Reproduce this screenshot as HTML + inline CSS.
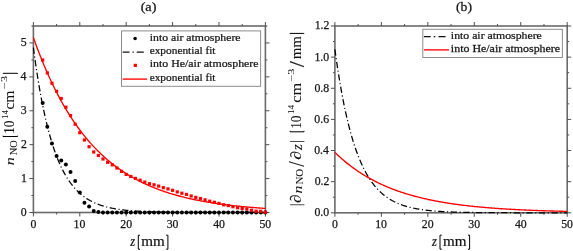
<!DOCTYPE html>
<html><head><meta charset="utf-8"><style>
html,body{margin:0;padding:0;background:#fff;}
body{width:573px;height:251px;overflow:hidden;}
svg{display:block;font-family:"Liberation Serif",serif;}
text{stroke:#222;stroke-width:0.25px;}
.yt text{stroke-width:0.08px;}
#w{width:573px;height:251px;will-change:transform;}
</style></head><body><div id="w">
<svg width="573" height="251" viewBox="0 0 573 251">
<rect width="573" height="251" fill="#fff"/>
<rect x="33.4" y="26.0" width="232.00" height="186.50" fill="none" stroke="#6a6a6a" stroke-width="1.6"/>
<path d="M33.40,212.5V216.5M33.40,26.0V22.0M56.60,212.5V214.5M56.60,26.0V24.0M79.80,212.5V216.5M79.80,26.0V22.0M103.00,212.5V214.5M103.00,26.0V24.0M126.20,212.5V216.5M126.20,26.0V22.0M149.40,212.5V214.5M149.40,26.0V24.0M172.60,212.5V216.5M172.60,26.0V22.0M195.80,212.5V214.5M195.80,26.0V24.0M219.00,212.5V216.5M219.00,26.0V22.0M242.20,212.5V214.5M242.20,26.0V24.0M265.40,212.5V216.5M265.40,26.0V22.0M33.4,195.55H31.4M265.4,195.55H267.4M33.4,161.64H31.4M265.4,161.64H267.4M33.4,127.73H31.4M265.4,127.73H267.4M33.4,93.82H31.4M265.4,93.82H267.4M33.4,59.91H31.4M265.4,59.91H267.4M33.4,26.00H31.4M265.4,26.00H267.4M33.4,212.50H29.4M265.4,212.50H269.4M33.4,178.59H29.4M265.4,178.59H269.4M33.4,144.68H29.4M265.4,144.68H269.4M33.4,110.77H29.4M265.4,110.77H269.4M33.4,76.86H29.4M265.4,76.86H269.4M33.4,42.95H29.4M265.4,42.95H269.4" stroke="#505050" stroke-width="1.0" fill="none"/>
<rect x="334.9" y="26.0" width="232.30" height="186.80" fill="none" stroke="#6a6a6a" stroke-width="1.6"/>
<path d="M334.90,212.8V216.8M334.90,26.0V22.0M358.13,212.8V214.8M358.13,26.0V24.0M381.36,212.8V216.8M381.36,26.0V22.0M404.59,212.8V214.8M404.59,26.0V24.0M427.82,212.8V216.8M427.82,26.0V22.0M451.05,212.8V214.8M451.05,26.0V24.0M474.28,212.8V216.8M474.28,26.0V22.0M497.51,212.8V214.8M497.51,26.0V24.0M520.74,212.8V216.8M520.74,26.0V22.0M543.97,212.8V214.8M543.97,26.0V24.0M567.20,212.8V216.8M567.20,26.0V22.0M334.9,197.23H332.9M567.2,197.23H569.2M334.9,166.10H332.9M567.2,166.10H569.2M334.9,134.97H332.9M567.2,134.97H569.2M334.9,103.83H332.9M567.2,103.83H569.2M334.9,72.70H332.9M567.2,72.70H569.2M334.9,41.57H332.9M567.2,41.57H569.2M334.9,212.80H330.9M567.2,212.80H571.2M334.9,181.67H330.9M567.2,181.67H571.2M334.9,150.53H330.9M567.2,150.53H571.2M334.9,119.40H330.9M567.2,119.40H571.2M334.9,88.27H330.9M567.2,88.27H571.2M334.9,57.13H330.9M567.2,57.13H571.2M334.9,26.00H330.9M567.2,26.00H571.2" stroke="#505050" stroke-width="1.0" fill="none"/>
<path d="M33.40,47.70 L34.33,54.64 L35.26,61.29 L36.18,67.65 L37.11,73.75 L38.04,79.59 L38.97,85.19 L39.90,90.55 L40.82,95.68 L41.75,100.60 L42.68,105.31 L43.61,109.82 L44.54,114.14 L45.46,118.28 L46.39,122.25 L47.32,126.05 L48.25,129.69 L49.18,133.18 L50.10,136.52 L51.03,139.71 L51.96,142.78 L52.89,145.71 L53.82,148.53 L54.74,151.22 L55.67,153.80 L56.60,156.27 L57.53,158.64 L58.46,160.90 L59.38,163.08 L60.31,165.16 L61.24,167.15 L62.17,169.06 L63.10,170.89 L64.02,172.64 L64.95,174.32 L65.88,175.93 L66.81,177.47 L67.74,178.94 L68.66,180.35 L69.59,181.71 L70.52,183.00 L71.45,184.24 L72.38,185.43 L73.30,186.57 L74.23,187.67 L75.16,188.71 L76.09,189.71 L77.02,190.67 L77.94,191.59 L78.87,192.47 L79.80,193.31 L80.73,194.12 L81.66,194.90 L82.58,195.64 L83.51,196.35 L84.44,197.03 L85.37,197.68 L86.30,198.30 L87.22,198.90 L88.15,199.47 L89.08,200.02 L90.01,200.55 L90.94,201.05 L91.86,201.53 L92.79,201.99 L93.72,202.44 L94.65,202.86 L95.58,203.26 L96.50,203.65 L97.43,204.03 L98.36,204.38 L99.29,204.72 L100.22,205.05 L101.14,205.37 L102.07,205.67 L103.00,205.95 L103.93,206.23 L104.86,206.49 L105.78,206.75 L106.71,206.99 L107.64,207.22 L108.57,207.44 L109.50,207.66 L110.42,207.86 L111.35,208.05 L112.28,208.24 L113.21,208.42 L114.14,208.59 L115.06,208.76 L115.99,208.91 L116.92,209.07 L117.85,209.21 L118.78,209.35 L119.70,209.48 L120.63,209.61 L121.56,209.73 L122.49,209.85 L123.42,209.96 L124.34,210.07 L125.27,210.17 L126.20,210.27 L127.13,210.36 L128.06,210.45 L128.98,210.54 L129.91,210.62 L130.84,210.70 L131.77,210.77 L132.70,210.85 L133.62,210.92 L134.55,210.98 L135.48,211.05 L136.41,211.11 L137.34,211.17 L138.26,211.22 L139.19,211.28 L140.12,211.33 L141.05,211.38 L141.98,211.42 L142.90,211.47 L143.83,211.51 L144.76,211.55 L145.69,211.59 L146.62,211.63 L147.54,211.67 L148.47,211.70 L149.40,211.74 L150.33,211.77 L151.26,211.80 L152.18,211.83 L153.11,211.86 L154.04,211.89 L154.97,211.91 L155.90,211.94 L156.82,211.96 L157.75,211.98 L158.68,212.00 L159.61,212.03 L160.54,212.05 L161.46,212.06 L162.39,212.08 L163.32,212.10 L164.25,212.12 L165.18,212.13 L166.10,212.15 L167.03,212.16 L167.96,212.18 L168.89,212.19 L169.82,212.20 L170.74,212.22 L171.67,212.23 L172.60,212.24 L173.53,212.25 L174.46,212.26 L175.38,212.27 L176.31,212.28 L177.24,212.29 L178.17,212.30 L179.10,212.31 L180.02,212.32 L180.95,212.32 L181.88,212.33 L182.81,212.34 L183.74,212.34 L184.66,212.35 L185.59,212.36 L186.52,212.36 L187.45,212.37 L188.38,212.37 L189.30,212.38 L190.23,212.39 L191.16,212.39 L192.09,212.39 L193.02,212.40 L193.94,212.40 L194.87,212.41 L195.80,212.41 L196.73,212.42 L197.66,212.42 L198.58,212.42 L199.51,212.43 L200.44,212.43 L201.37,212.43 L202.30,212.43 L203.22,212.44 L204.15,212.44 L205.08,212.44 L206.01,212.44 L206.94,212.45 L207.86,212.45 L208.79,212.45 L209.72,212.45 L210.65,212.46 L211.58,212.46 L212.50,212.46 L213.43,212.46 L214.36,212.46 L215.29,212.46 L216.22,212.47 L217.14,212.47 L218.07,212.47 L219.00,212.47 L219.93,212.47 L220.86,212.47 L221.78,212.47 L222.71,212.47 L223.64,212.48 L224.57,212.48 L225.50,212.48 L226.42,212.48 L227.35,212.48 L228.28,212.48 L229.21,212.48 L230.14,212.48 L231.06,212.48 L231.99,212.48 L232.92,212.48 L233.85,212.48 L234.78,212.49 L235.70,212.49 L236.63,212.49 L237.56,212.49 L238.49,212.49 L239.42,212.49 L240.34,212.49 L241.27,212.49 L242.20,212.49 L243.13,212.49 L244.06,212.49 L244.98,212.49 L245.91,212.49 L246.84,212.49 L247.77,212.49 L248.70,212.49 L249.62,212.49 L250.55,212.49 L251.48,212.49 L252.41,212.49 L253.34,212.49 L254.26,212.49 L255.19,212.49 L256.12,212.49 L257.05,212.49 L257.98,212.50 L258.90,212.50 L259.83,212.50 L260.76,212.50 L261.69,212.50 L262.62,212.50 L263.54,212.50 L264.47,212.50 L265.40,212.50" fill="none" stroke="#000" stroke-width="1.25" stroke-dasharray="6.3,2.6,1.1,2.6"/>
<path d="M33.40,37.53 L34.33,40.14 L35.26,42.71 L36.18,45.25 L37.11,47.74 L38.04,50.20 L38.97,52.62 L39.90,55.01 L40.82,57.36 L41.75,59.68 L42.68,61.96 L43.61,64.20 L44.54,66.42 L45.46,68.60 L46.39,70.75 L47.32,72.86 L48.25,74.95 L49.18,77.00 L50.10,79.02 L51.03,81.01 L51.96,82.98 L52.89,84.91 L53.82,86.81 L54.74,88.69 L55.67,90.54 L56.60,92.36 L57.53,94.15 L58.46,95.92 L59.38,97.66 L60.31,99.37 L61.24,101.06 L62.17,102.72 L63.10,104.36 L64.02,105.98 L64.95,107.56 L65.88,109.13 L66.81,110.67 L67.74,112.19 L68.66,113.69 L69.59,115.17 L70.52,116.62 L71.45,118.05 L72.38,119.46 L73.30,120.85 L74.23,122.22 L75.16,123.56 L76.09,124.89 L77.02,126.20 L77.94,127.49 L78.87,128.75 L79.80,130.00 L80.73,131.24 L81.66,132.45 L82.58,133.64 L83.51,134.82 L84.44,135.98 L85.37,137.12 L86.30,138.25 L87.22,139.36 L88.15,140.45 L89.08,141.52 L90.01,142.58 L90.94,143.63 L91.86,144.65 L92.79,145.67 L93.72,146.66 L94.65,147.65 L95.58,148.61 L96.50,149.57 L97.43,150.51 L98.36,151.43 L99.29,152.34 L100.22,153.24 L101.14,154.13 L102.07,155.00 L103.00,155.86 L103.93,156.70 L104.86,157.53 L105.78,158.35 L106.71,159.16 L107.64,159.96 L108.57,160.74 L109.50,161.51 L110.42,162.28 L111.35,163.03 L112.28,163.76 L113.21,164.49 L114.14,165.21 L115.06,165.91 L115.99,166.61 L116.92,167.29 L117.85,167.97 L118.78,168.63 L119.70,169.29 L120.63,169.93 L121.56,170.57 L122.49,171.19 L123.42,171.81 L124.34,172.42 L125.27,173.02 L126.20,173.61 L127.13,174.19 L128.06,174.76 L128.98,175.32 L129.91,175.88 L130.84,176.42 L131.77,176.96 L132.70,177.49 L133.62,178.01 L134.55,178.53 L135.48,179.04 L136.41,179.53 L137.34,180.03 L138.26,180.51 L139.19,180.99 L140.12,181.46 L141.05,181.92 L141.98,182.38 L142.90,182.83 L143.83,183.27 L144.76,183.71 L145.69,184.14 L146.62,184.56 L147.54,184.98 L148.47,185.39 L149.40,185.79 L150.33,186.19 L151.26,186.58 L152.18,186.97 L153.11,187.35 L154.04,187.73 L154.97,188.10 L155.90,188.46 L156.82,188.82 L157.75,189.17 L158.68,189.52 L159.61,189.86 L160.54,190.20 L161.46,190.54 L162.39,190.86 L163.32,191.19 L164.25,191.50 L165.18,191.82 L166.10,192.13 L167.03,192.43 L167.96,192.73 L168.89,193.03 L169.82,193.32 L170.74,193.60 L171.67,193.88 L172.60,194.16 L173.53,194.44 L174.46,194.71 L175.38,194.97 L176.31,195.23 L177.24,195.49 L178.17,195.74 L179.10,195.99 L180.02,196.24 L180.95,196.48 L181.88,196.72 L182.81,196.96 L183.74,197.19 L184.66,197.42 L185.59,197.64 L186.52,197.86 L187.45,198.08 L188.38,198.30 L189.30,198.51 L190.23,198.72 L191.16,198.93 L192.09,199.13 L193.02,199.33 L193.94,199.52 L194.87,199.72 L195.80,199.91 L196.73,200.10 L197.66,200.28 L198.58,200.46 L199.51,200.64 L200.44,200.82 L201.37,200.99 L202.30,201.17 L203.22,201.34 L204.15,201.50 L205.08,201.67 L206.01,201.83 L206.94,201.99 L207.86,202.14 L208.79,202.30 L209.72,202.45 L210.65,202.60 L211.58,202.75 L212.50,202.89 L213.43,203.04 L214.36,203.18 L215.29,203.32 L216.22,203.45 L217.14,203.59 L218.07,203.72 L219.00,203.85 L219.93,203.98 L220.86,204.11 L221.78,204.24 L222.71,204.36 L223.64,204.48 L224.57,204.60 L225.50,204.72 L226.42,204.83 L227.35,204.95 L228.28,205.06 L229.21,205.17 L230.14,205.28 L231.06,205.39 L231.99,205.50 L232.92,205.60 L233.85,205.70 L234.78,205.80 L235.70,205.90 L236.63,206.00 L237.56,206.10 L238.49,206.20 L239.42,206.29 L240.34,206.38 L241.27,206.47 L242.20,206.56 L243.13,206.65 L244.06,206.74 L244.98,206.83 L245.91,206.91 L246.84,206.99 L247.77,207.08 L248.70,207.16 L249.62,207.24 L250.55,207.31 L251.48,207.39 L252.41,207.47 L253.34,207.54 L254.26,207.62 L255.19,207.69 L256.12,207.76 L257.05,207.83 L257.98,207.90 L258.90,207.97 L259.83,208.04 L260.76,208.11 L261.69,208.17 L262.62,208.24 L263.54,208.30 L264.47,208.36 L265.40,208.42" fill="none" stroke="#ff0000" stroke-width="1.35"/>
<circle cx="42.68" cy="102.90" r="2.0" fill="#000"/>
<circle cx="47.32" cy="126.70" r="2.0" fill="#000"/>
<circle cx="51.96" cy="143.60" r="2.0" fill="#000"/>
<circle cx="56.60" cy="156.00" r="2.0" fill="#000"/>
<circle cx="61.24" cy="160.60" r="2.0" fill="#000"/>
<circle cx="65.88" cy="164.40" r="2.0" fill="#000"/>
<circle cx="70.52" cy="172.00" r="2.0" fill="#000"/>
<circle cx="75.16" cy="181.00" r="2.0" fill="#000"/>
<circle cx="79.80" cy="192.40" r="2.0" fill="#000"/>
<circle cx="84.44" cy="202.80" r="2.0" fill="#000"/>
<circle cx="89.08" cy="206.40" r="2.0" fill="#000"/>
<circle cx="93.72" cy="210.90" r="2.0" fill="#000"/>
<circle cx="98.36" cy="212.10" r="2.0" fill="#000"/>
<circle cx="103.00" cy="212.50" r="2.0" fill="#000"/>
<circle cx="107.64" cy="212.50" r="2.0" fill="#000"/>
<circle cx="112.28" cy="212.50" r="2.0" fill="#000"/>
<circle cx="116.92" cy="212.50" r="2.0" fill="#000"/>
<circle cx="121.56" cy="212.50" r="2.0" fill="#000"/>
<circle cx="126.20" cy="212.50" r="2.0" fill="#000"/>
<circle cx="130.84" cy="212.50" r="2.0" fill="#000"/>
<circle cx="135.48" cy="212.50" r="2.0" fill="#000"/>
<circle cx="140.12" cy="212.50" r="2.0" fill="#000"/>
<circle cx="144.76" cy="212.50" r="2.0" fill="#000"/>
<circle cx="149.40" cy="212.50" r="2.0" fill="#000"/>
<circle cx="154.04" cy="212.50" r="2.0" fill="#000"/>
<circle cx="158.68" cy="212.50" r="2.0" fill="#000"/>
<circle cx="163.32" cy="212.50" r="2.0" fill="#000"/>
<circle cx="167.96" cy="212.50" r="2.0" fill="#000"/>
<circle cx="172.60" cy="212.50" r="2.0" fill="#000"/>
<circle cx="177.24" cy="212.50" r="2.0" fill="#000"/>
<circle cx="181.88" cy="212.50" r="2.0" fill="#000"/>
<circle cx="186.52" cy="212.50" r="2.0" fill="#000"/>
<circle cx="191.16" cy="212.50" r="2.0" fill="#000"/>
<circle cx="195.80" cy="212.50" r="2.0" fill="#000"/>
<circle cx="200.44" cy="212.50" r="2.0" fill="#000"/>
<circle cx="205.08" cy="212.50" r="2.0" fill="#000"/>
<circle cx="209.72" cy="212.50" r="2.0" fill="#000"/>
<circle cx="214.36" cy="212.50" r="2.0" fill="#000"/>
<circle cx="219.00" cy="212.50" r="2.0" fill="#000"/>
<circle cx="223.64" cy="212.50" r="2.0" fill="#000"/>
<circle cx="228.28" cy="212.50" r="2.0" fill="#000"/>
<circle cx="232.92" cy="212.50" r="2.0" fill="#000"/>
<circle cx="237.56" cy="212.50" r="2.0" fill="#000"/>
<circle cx="242.20" cy="212.50" r="2.0" fill="#000"/>
<circle cx="246.84" cy="212.50" r="2.0" fill="#000"/>
<circle cx="251.48" cy="212.50" r="2.0" fill="#000"/>
<circle cx="256.12" cy="212.50" r="2.0" fill="#000"/>
<circle cx="260.76" cy="212.50" r="2.0" fill="#000"/>
<circle cx="265.40" cy="212.50" r="2.0" fill="#000"/>
<rect x="41.08" y="58.40" width="3.2" height="3.2" fill="#ff0000"/>
<rect x="45.72" y="71.30" width="3.2" height="3.2" fill="#ff0000"/>
<rect x="50.36" y="81.60" width="3.2" height="3.2" fill="#ff0000"/>
<rect x="55.00" y="89.70" width="3.2" height="3.2" fill="#ff0000"/>
<rect x="59.64" y="96.90" width="3.2" height="3.2" fill="#ff0000"/>
<rect x="64.28" y="105.60" width="3.2" height="3.2" fill="#ff0000"/>
<rect x="68.92" y="114.00" width="3.2" height="3.2" fill="#ff0000"/>
<rect x="73.56" y="122.60" width="3.2" height="3.2" fill="#ff0000"/>
<rect x="78.20" y="131.10" width="3.2" height="3.2" fill="#ff0000"/>
<rect x="82.84" y="138.40" width="3.2" height="3.2" fill="#ff0000"/>
<rect x="87.48" y="145.10" width="3.2" height="3.2" fill="#ff0000"/>
<rect x="92.12" y="150.40" width="3.2" height="3.2" fill="#ff0000"/>
<rect x="96.76" y="153.90" width="3.2" height="3.2" fill="#ff0000"/>
<rect x="101.40" y="157.40" width="3.2" height="3.2" fill="#ff0000"/>
<rect x="106.04" y="160.70" width="3.2" height="3.2" fill="#ff0000"/>
<rect x="110.68" y="163.20" width="3.2" height="3.2" fill="#ff0000"/>
<rect x="115.32" y="166.40" width="3.2" height="3.2" fill="#ff0000"/>
<rect x="119.96" y="169.80" width="3.2" height="3.2" fill="#ff0000"/>
<rect x="124.60" y="172.80" width="3.2" height="3.2" fill="#ff0000"/>
<rect x="129.24" y="174.90" width="3.2" height="3.2" fill="#ff0000"/>
<rect x="133.88" y="176.80" width="3.2" height="3.2" fill="#ff0000"/>
<rect x="138.52" y="178.60" width="3.2" height="3.2" fill="#ff0000"/>
<rect x="143.16" y="180.50" width="3.2" height="3.2" fill="#ff0000"/>
<rect x="147.80" y="182.10" width="3.2" height="3.2" fill="#ff0000"/>
<rect x="152.44" y="183.20" width="3.2" height="3.2" fill="#ff0000"/>
<rect x="157.08" y="184.50" width="3.2" height="3.2" fill="#ff0000"/>
<rect x="161.72" y="186.10" width="3.2" height="3.2" fill="#ff0000"/>
<rect x="166.36" y="187.30" width="3.2" height="3.2" fill="#ff0000"/>
<rect x="171.00" y="188.70" width="3.2" height="3.2" fill="#ff0000"/>
<rect x="175.64" y="190.30" width="3.2" height="3.2" fill="#ff0000"/>
<rect x="180.28" y="191.60" width="3.2" height="3.2" fill="#ff0000"/>
<rect x="184.92" y="192.80" width="3.2" height="3.2" fill="#ff0000"/>
<rect x="189.56" y="194.40" width="3.2" height="3.2" fill="#ff0000"/>
<rect x="194.20" y="195.80" width="3.2" height="3.2" fill="#ff0000"/>
<rect x="198.84" y="196.90" width="3.2" height="3.2" fill="#ff0000"/>
<rect x="203.48" y="198.20" width="3.2" height="3.2" fill="#ff0000"/>
<rect x="208.12" y="199.60" width="3.2" height="3.2" fill="#ff0000"/>
<rect x="212.76" y="200.70" width="3.2" height="3.2" fill="#ff0000"/>
<rect x="217.40" y="201.80" width="3.2" height="3.2" fill="#ff0000"/>
<rect x="222.04" y="203.20" width="3.2" height="3.2" fill="#ff0000"/>
<rect x="226.68" y="204.00" width="3.2" height="3.2" fill="#ff0000"/>
<rect x="231.32" y="205.10" width="3.2" height="3.2" fill="#ff0000"/>
<rect x="235.96" y="206.10" width="3.2" height="3.2" fill="#ff0000"/>
<rect x="240.60" y="206.90" width="3.2" height="3.2" fill="#ff0000"/>
<rect x="245.24" y="207.50" width="3.2" height="3.2" fill="#ff0000"/>
<rect x="249.88" y="208.70" width="3.2" height="3.2" fill="#ff0000"/>
<rect x="254.52" y="209.60" width="3.2" height="3.2" fill="#ff0000"/>
<rect x="259.16" y="209.70" width="3.2" height="3.2" fill="#ff0000"/>
<rect x="263.80" y="210.50" width="3.2" height="3.2" fill="#ff0000"/>
<path d="M334.90,49.35 L335.83,56.09 L336.76,62.55 L337.69,68.75 L338.62,74.69 L339.55,80.38 L340.48,85.84 L341.40,91.07 L342.33,96.09 L343.26,100.91 L344.19,105.52 L345.12,109.94 L346.05,114.18 L346.98,118.25 L347.91,122.15 L348.84,125.89 L349.77,129.47 L350.70,132.90 L351.63,136.20 L352.55,139.36 L353.48,142.39 L354.41,145.29 L355.34,148.07 L356.27,150.74 L357.20,153.30 L358.13,155.75 L359.06,158.11 L359.99,160.36 L360.92,162.52 L361.85,164.60 L362.78,166.58 L363.71,168.49 L364.63,170.32 L365.56,172.07 L366.49,173.75 L367.42,175.36 L368.35,176.90 L369.28,178.38 L370.21,179.80 L371.14,181.16 L372.07,182.47 L373.00,183.72 L373.93,184.92 L374.86,186.06 L375.78,187.17 L376.71,188.22 L377.64,189.24 L378.57,190.21 L379.50,191.14 L380.43,192.03 L381.36,192.89 L382.29,193.71 L383.22,194.50 L384.15,195.25 L385.08,195.98 L386.01,196.67 L386.94,197.33 L387.86,197.97 L388.79,198.58 L389.72,199.17 L390.65,199.73 L391.58,200.27 L392.51,200.79 L393.44,201.28 L394.37,201.76 L395.30,202.21 L396.23,202.65 L397.16,203.07 L398.09,203.47 L399.01,203.85 L399.94,204.22 L400.87,204.58 L401.80,204.92 L402.73,205.24 L403.66,205.55 L404.59,205.85 L405.52,206.14 L406.45,206.41 L407.38,206.68 L408.31,206.93 L409.24,207.17 L410.17,207.40 L411.09,207.62 L412.02,207.84 L412.95,208.04 L413.88,208.24 L414.81,208.43 L415.74,208.61 L416.67,208.78 L417.60,208.95 L418.53,209.10 L419.46,209.26 L420.39,209.40 L421.32,209.54 L422.24,209.68 L423.17,209.81 L424.10,209.93 L425.03,210.05 L425.96,210.16 L426.89,210.27 L427.82,210.37 L428.75,210.47 L429.68,210.57 L430.61,210.66 L431.54,210.75 L432.47,210.84 L433.40,210.92 L434.32,210.99 L435.25,211.07 L436.18,211.14 L437.11,211.21 L438.04,211.27 L438.97,211.34 L439.90,211.40 L440.83,211.45 L441.76,211.51 L442.69,211.56 L443.62,211.61 L444.55,211.66 L445.47,211.71 L446.40,211.76 L447.33,211.80 L448.26,211.84 L449.19,211.88 L450.12,211.92 L451.05,211.95 L451.98,211.99 L452.91,212.02 L453.84,212.05 L454.77,212.08 L455.70,212.11 L456.63,212.14 L457.55,212.17 L458.48,212.20 L459.41,212.22 L460.34,212.24 L461.27,212.27 L462.20,212.29 L463.13,212.31 L464.06,212.33 L464.99,212.35 L465.92,212.37 L466.85,212.39 L467.78,212.40 L468.70,212.42 L469.63,212.44 L470.56,212.45 L471.49,212.46 L472.42,212.48 L473.35,212.49 L474.28,212.50 L475.21,212.52 L476.14,212.53 L477.07,212.54 L478.00,212.55 L478.93,212.56 L479.86,212.57 L480.78,212.58 L481.71,212.59 L482.64,212.60 L483.57,212.61 L484.50,212.61 L485.43,212.62 L486.36,212.63 L487.29,212.64 L488.22,212.64 L489.15,212.65 L490.08,212.66 L491.01,212.66 L491.93,212.67 L492.86,212.67 L493.79,212.68 L494.72,212.68 L495.65,212.69 L496.58,212.69 L497.51,212.70 L498.44,212.70 L499.37,212.71 L500.30,212.71 L501.23,212.71 L502.16,212.72 L503.09,212.72 L504.01,212.72 L504.94,212.73 L505.87,212.73 L506.80,212.73 L507.73,212.74 L508.66,212.74 L509.59,212.74 L510.52,212.74 L511.45,212.75 L512.38,212.75 L513.31,212.75 L514.24,212.75 L515.16,212.75 L516.09,212.76 L517.02,212.76 L517.95,212.76 L518.88,212.76 L519.81,212.76 L520.74,212.76 L521.67,212.77 L522.60,212.77 L523.53,212.77 L524.46,212.77 L525.39,212.77 L526.32,212.77 L527.24,212.77 L528.17,212.77 L529.10,212.78 L530.03,212.78 L530.96,212.78 L531.89,212.78 L532.82,212.78 L533.75,212.78 L534.68,212.78 L535.61,212.78 L536.54,212.78 L537.47,212.78 L538.39,212.78 L539.32,212.78 L540.25,212.79 L541.18,212.79 L542.11,212.79 L543.04,212.79 L543.97,212.79 L544.90,212.79 L545.83,212.79 L546.76,212.79 L547.69,212.79 L548.62,212.79 L549.55,212.79 L550.47,212.79 L551.40,212.79 L552.33,212.79 L553.26,212.79 L554.19,212.79 L555.12,212.79 L556.05,212.79 L556.98,212.79 L557.91,212.79 L558.84,212.79 L559.77,212.79 L560.70,212.79 L561.62,212.79 L562.55,212.79 L563.48,212.79 L564.41,212.80 L565.34,212.80 L566.27,212.80 L567.20,212.80" fill="none" stroke="#000" stroke-width="1.25" stroke-dasharray="6.3,2.6,1.1,2.6"/>
<path d="M334.90,152.40 L335.83,153.30 L336.76,154.19 L337.69,155.07 L338.62,155.93 L339.55,156.78 L340.48,157.61 L341.40,158.44 L342.33,159.25 L343.26,160.05 L344.19,160.83 L345.12,161.61 L346.05,162.37 L346.98,163.13 L347.91,163.87 L348.84,164.60 L349.77,165.32 L350.70,166.03 L351.63,166.72 L352.55,167.41 L353.48,168.09 L354.41,168.76 L355.34,169.41 L356.27,170.06 L357.20,170.70 L358.13,171.33 L359.06,171.95 L359.99,172.56 L360.92,173.16 L361.85,173.75 L362.78,174.33 L363.71,174.91 L364.63,175.47 L365.56,176.03 L366.49,176.58 L367.42,177.12 L368.35,177.65 L369.28,178.17 L370.21,178.69 L371.14,179.20 L372.07,179.70 L373.00,180.20 L373.93,180.68 L374.86,181.16 L375.78,181.63 L376.71,182.10 L377.64,182.56 L378.57,183.01 L379.50,183.45 L380.43,183.89 L381.36,184.32 L382.29,184.75 L383.22,185.17 L384.15,185.58 L385.08,185.99 L386.01,186.39 L386.94,186.78 L387.86,187.17 L388.79,187.55 L389.72,187.93 L390.65,188.30 L391.58,188.66 L392.51,189.02 L393.44,189.38 L394.37,189.73 L395.30,190.07 L396.23,190.41 L397.16,190.75 L398.09,191.08 L399.01,191.40 L399.94,191.72 L400.87,192.03 L401.80,192.34 L402.73,192.65 L403.66,192.95 L404.59,193.25 L405.52,193.54 L406.45,193.83 L407.38,194.11 L408.31,194.39 L409.24,194.66 L410.17,194.93 L411.09,195.20 L412.02,195.46 L412.95,195.72 L413.88,195.98 L414.81,196.23 L415.74,196.48 L416.67,196.72 L417.60,196.96 L418.53,197.20 L419.46,197.43 L420.39,197.66 L421.32,197.88 L422.24,198.11 L423.17,198.33 L424.10,198.54 L425.03,198.75 L425.96,198.96 L426.89,199.17 L427.82,199.37 L428.75,199.57 L429.68,199.77 L430.61,199.97 L431.54,200.16 L432.47,200.35 L433.40,200.53 L434.32,200.72 L435.25,200.90 L436.18,201.07 L437.11,201.25 L438.04,201.42 L438.97,201.59 L439.90,201.76 L440.83,201.92 L441.76,202.09 L442.69,202.24 L443.62,202.40 L444.55,202.56 L445.47,202.71 L446.40,202.86 L447.33,203.01 L448.26,203.16 L449.19,203.30 L450.12,203.44 L451.05,203.58 L451.98,203.72 L452.91,203.85 L453.84,203.99 L454.77,204.12 L455.70,204.25 L456.63,204.38 L457.55,204.50 L458.48,204.63 L459.41,204.75 L460.34,204.87 L461.27,204.99 L462.20,205.10 L463.13,205.22 L464.06,205.33 L464.99,205.44 L465.92,205.55 L466.85,205.66 L467.78,205.77 L468.70,205.87 L469.63,205.98 L470.56,206.08 L471.49,206.18 L472.42,206.28 L473.35,206.37 L474.28,206.47 L475.21,206.56 L476.14,206.66 L477.07,206.75 L478.00,206.84 L478.93,206.93 L479.86,207.02 L480.78,207.10 L481.71,207.19 L482.64,207.27 L483.57,207.35 L484.50,207.43 L485.43,207.51 L486.36,207.59 L487.29,207.67 L488.22,207.75 L489.15,207.82 L490.08,207.90 L491.01,207.97 L491.93,208.04 L492.86,208.11 L493.79,208.18 L494.72,208.25 L495.65,208.32 L496.58,208.39 L497.51,208.45 L498.44,208.52 L499.37,208.58 L500.30,208.65 L501.23,208.71 L502.16,208.77 L503.09,208.83 L504.01,208.89 L504.94,208.95 L505.87,209.00 L506.80,209.06 L507.73,209.12 L508.66,209.17 L509.59,209.23 L510.52,209.28 L511.45,209.33 L512.38,209.38 L513.31,209.43 L514.24,209.48 L515.16,209.53 L516.09,209.58 L517.02,209.63 L517.95,209.68 L518.88,209.72 L519.81,209.77 L520.74,209.82 L521.67,209.86 L522.60,209.90 L523.53,209.95 L524.46,209.99 L525.39,210.03 L526.32,210.07 L527.24,210.11 L528.17,210.15 L529.10,210.19 L530.03,210.23 L530.96,210.27 L531.89,210.31 L532.82,210.35 L533.75,210.38 L534.68,210.42 L535.61,210.45 L536.54,210.49 L537.47,210.52 L538.39,210.56 L539.32,210.59 L540.25,210.62 L541.18,210.66 L542.11,210.69 L543.04,210.72 L543.97,210.75 L544.90,210.78 L545.83,210.81 L546.76,210.84 L547.69,210.87 L548.62,210.90 L549.55,210.93 L550.47,210.96 L551.40,210.98 L552.33,211.01 L553.26,211.04 L554.19,211.06 L555.12,211.09 L556.05,211.11 L556.98,211.14 L557.91,211.16 L558.84,211.19 L559.77,211.21 L560.70,211.24 L561.62,211.26 L562.55,211.28 L563.48,211.31 L564.41,211.33 L565.34,211.35 L566.27,211.37 L567.20,211.39" fill="none" stroke="#ff0000" stroke-width="1.35"/>
<text transform="matrix(1.0000,0,0,1,30.45,227.80)" font-size="11.8" fill="#111" >0</text>
<text transform="matrix(1.0000,0,0,1,331.95,227.80)" font-size="11.8" fill="#111" >0</text>
<text transform="matrix(1.0000,0,0,1,73.60,227.80)" font-size="11.8" fill="#111" >10</text>
<text transform="matrix(1.0000,0,0,1,375.17,227.80)" font-size="11.8" fill="#111" >10</text>
<text transform="matrix(1.0000,0,0,1,120.24,227.80)" font-size="11.8" fill="#111" >20</text>
<text transform="matrix(1.0000,0,0,1,421.86,227.80)" font-size="11.8" fill="#111" >20</text>
<text transform="matrix(1.0000,0,0,1,166.64,227.80)" font-size="11.8" fill="#111" >30</text>
<text transform="matrix(1.0000,0,0,1,468.32,227.80)" font-size="11.8" fill="#111" >30</text>
<text transform="matrix(1.0000,0,0,1,213.22,227.80)" font-size="11.8" fill="#111" >40</text>
<text transform="matrix(1.0000,0,0,1,514.96,227.80)" font-size="11.8" fill="#111" >40</text>
<text transform="matrix(1.0000,0,0,1,259.38,227.80)" font-size="11.8" fill="#111" >50</text>
<text transform="matrix(1.0000,0,0,1,561.18,227.80)" font-size="11.8" fill="#111" >50</text>
<text transform="matrix(1.0000,0,0,1,20.65,215.90)" font-size="11.8" fill="#111" >0</text>
<text transform="matrix(1.0000,0,0,1,21.01,181.99)" font-size="11.8" fill="#111" >1</text>
<text transform="matrix(1.0000,0,0,1,20.89,148.08)" font-size="11.8" fill="#111" >2</text>
<text transform="matrix(1.0000,0,0,1,20.65,114.17)" font-size="11.8" fill="#111" >3</text>
<text transform="matrix(1.0000,0,0,1,20.42,80.26)" font-size="11.8" fill="#111" >4</text>
<text transform="matrix(1.0000,0,0,1,20.65,46.35)" font-size="11.8" fill="#111" >5</text>
<text transform="matrix(1.0000,0,0,1,314.40,216.20)" font-size="11.8" fill="#111" >0.0</text>
<text transform="matrix(1.0000,0,0,1,314.64,185.07)" font-size="11.8" fill="#111" >0.2</text>
<text transform="matrix(1.0000,0,0,1,314.17,153.93)" font-size="11.8" fill="#111" >0.4</text>
<text transform="matrix(1.0000,0,0,1,314.29,122.80)" font-size="11.8" fill="#111" >0.6</text>
<text transform="matrix(1.0000,0,0,1,314.40,91.67)" font-size="11.8" fill="#111" >0.8</text>
<text transform="matrix(1.0000,0,0,1,314.40,60.53)" font-size="11.8" fill="#111" >1.0</text>
<text transform="matrix(1.0000,0,0,1,314.64,29.40)" font-size="11.8" fill="#111" >1.2</text>
<text transform="matrix(1.2049,0,0,1,140.63,10.90)" font-size="11.8" fill="#111" >(a)</text>
<text transform="matrix(1.1659,0,0,1,455.95,10.90)" font-size="11.8" fill="#111" >(b)</text>
<g transform="translate(0.0,0)">
<text transform="matrix(0.8065,0,0,0.8976,130.35,245.80)" font-size="15.5" font-style="italic" fill="#111">z</text>
<path d="M140.0,235.2H138.3V249.2H140.0" fill="none" stroke="#000" stroke-width="1.0"/>
<text transform="matrix(0.9754,0,0,0.8922,141.20,245.80)" font-size="15.5" fill="#111">mm</text>
<path d="M166.2,235.2H167.9V249.2H166.2" fill="none" stroke="#000" stroke-width="1.0"/>
</g>
<g transform="translate(301.7,0)">
<text transform="matrix(0.8065,0,0,0.8976,130.35,245.80)" font-size="15.5" font-style="italic" fill="#111">z</text>
<path d="M140.0,235.2H138.3V249.2H140.0" fill="none" stroke="#000" stroke-width="1.0"/>
<text transform="matrix(0.9754,0,0,0.8922,141.20,245.80)" font-size="15.5" fill="#111">mm</text>
<path d="M166.2,235.2H167.9V249.2H166.2" fill="none" stroke="#000" stroke-width="1.0"/>
</g>
<g transform="rotate(-90)" class="yt"><text transform="matrix(1.0353,0,0,0.8602,-165.28,13.57)" font-size="15.5" font-style="italic" fill="#111">n</text><text transform="matrix(0.6720,0,0,0.6926,-155.31,16.59)" font-size="15.5" fill="#111">NO</text><path d="M-135.70,3.00H-136.50V17.60H-135.70" fill="none" stroke="#000" stroke-width="1.0"/><text transform="matrix(0.8699,0,0,0.9488,-134.08,13.91)" font-size="15.5" fill="#111">10</text><text transform="matrix(0.5743,0,0,0.5778,-118.91,7.51)" font-size="15.5" fill="#111">14</text><text transform="matrix(1.0082,0,0,0.8871,-109.57,14.36)" font-size="15.5" fill="#111">cm</text><text transform="matrix(0.7984,0,0,0.5693,-89.09,7.12)" font-size="15.5" fill="#111">−3</text><path d="M-74.00,3.20H-73.30V17.40H-74.00" fill="none" stroke="#000" stroke-width="1.0"/></g>
<g transform="rotate(-90)" class="yt"><rect x="-205.20" y="290.10" width="0.80" height="14.30" fill="#222"/><text transform="matrix(1.0953,0,0,0.9978,-202.91,301.39)" font-size="15.5" fill="#111">∂</text><text transform="matrix(1.0203,0,0,0.7392,-193.57,301.59)" font-size="15.5" font-style="italic" fill="#111">n</text><text transform="matrix(0.7044,0,0,0.6736,-184.62,303.29)" font-size="15.5" fill="#111">NO</text><text transform="matrix(1.2673,0,0,1.4251,-166.80,303.96)" font-size="15.5" fill="#111">/</text><text transform="matrix(1.1553,0,0,0.9634,-159.84,301.40)" font-size="15.5" fill="#111">∂</text><text transform="matrix(0.9677,0,0,0.9537,-149.90,301.50)" font-size="15.5" font-style="italic" fill="#111">z</text><rect x="-142.00" y="290.10" width="0.80" height="14.30" fill="#222"/><path d="M-130.80,290.10H-131.80V304.00H-130.80" fill="none" stroke="#000" stroke-width="1.0"/><text transform="matrix(0.8554,0,0,0.9203,-128.76,300.81)" font-size="15.5" fill="#111">10</text><text transform="matrix(0.6026,0,0,0.5874,-114.05,294.11)" font-size="15.5" fill="#111">14</text><text transform="matrix(1.0463,0,0,0.8871,-102.79,300.76)" font-size="15.5" fill="#111">cm</text><text transform="matrix(0.7984,0,0,0.5313,-81.79,294.04)" font-size="15.5" fill="#111">−3</text><text transform="matrix(1.4286,0,0,1.4155,-67.20,304.26)" font-size="15.5" fill="#111">/</text><text transform="matrix(0.9586,0,0,0.9060,-59.30,300.90)" font-size="15.5" fill="#111">mm</text><path d="M-34.10,290.10H-33.40V303.80H-34.10" fill="none" stroke="#000" stroke-width="1.0"/></g>
<rect x="121.5" y="30.9" width="139.1" height="55.4" fill="#fff" stroke="#8c8c8c" stroke-width="1"/>
<circle cx="135.1" cy="38.5" r="1.8" fill="#000"/>
<line x1="122.7" y1="52.1" x2="144.1" y2="52.1" stroke="#111" stroke-width="1.4" stroke-dasharray="6.8,3.0,1.3,2.9,7.1,10"/>
<rect x="133.70000000000002" y="63.800000000000004" width="3.2" height="3.2" fill="#ff0000"/>
<line x1="122.6" y1="79.1" x2="147.1" y2="79.1" stroke="#ff0000" stroke-width="1.35"/>
<text transform="matrix(1.0709,0,0,1,149.76,40.50)" font-size="11.0" fill="#111" >into air atmosphere</text>
<text transform="matrix(1.0325,0,0,1,149.66,54.00)" font-size="11.0" fill="#111" >exponential fit</text>
<text transform="matrix(1.0808,0,0,1,149.76,67.30)" font-size="11.0" fill="#111" >into He/air atmosphere</text>
<text transform="matrix(1.0325,0,0,1,149.66,80.60)" font-size="11.0" fill="#111" >exponential fit</text>
<rect x="422.8" y="29.3" width="139.6" height="28.2" fill="#fff" stroke="#8c8c8c" stroke-width="1"/>
<line x1="423.9" y1="36.6" x2="445.7" y2="36.6" stroke="#111" stroke-width="1.4" stroke-dasharray="6.8,3.0,1.6,3.2,7.1,10"/>
<line x1="423.9" y1="49.9" x2="449" y2="49.9" stroke="#ff0000" stroke-width="1.35"/>
<text transform="matrix(1.0732,0,0,1,450.86,38.80)" font-size="11.0" fill="#111" >into air atmosphere</text>
<text transform="matrix(1.0848,0,0,1,450.86,52.40)" font-size="11.0" fill="#111" >into He/air atmosphere</text>
</svg></div>
</body></html>
